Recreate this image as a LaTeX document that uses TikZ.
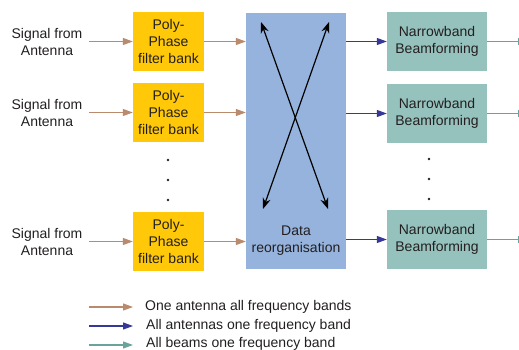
\documentclass[tikz,border=0pt]{standalone}
\usepackage{fontspec}
\setmainfont{Liberation Sans}
\usetikzlibrary{arrows.meta}
\definecolor{pfbyellow}{HTML}{FFC90A}
\definecolor{reorgblue}{HTML}{95B3DD}
\definecolor{nbbteal}{HTML}{96C2BE}
\definecolor{antbrown}{HTML}{B98A6C}
\definecolor{bandblue}{HTML}{353896}
\definecolor{beamteal}{HTML}{6AA39C}
\definecolor{txtgrey}{HTML}{231F20}
\begin{document}
\begin{tikzpicture}[x=1pt, y=-1pt,
    every node/.style={text=txtgrey, font=\fontsize{14}{17}\selectfont},
    pfb/.style={fill=pfbyellow, minimum width=71pt, minimum height=59pt,
                inner sep=0pt, align=center},
    nbb/.style={fill=nbbteal, minimum width=100pt, minimum height=59pt,
                inner sep=0pt, align=center},
    sig/.style={align=center, inner sep=0pt},
    antarrow/.style={antbrown, line width=1.1pt, -{Triangle[length=10pt,width=7pt]}},
    bandarrow/.style={bandblue, line width=1.1pt, -{Triangle[length=10pt,width=7pt]}},
    beamarrow/.style={beamteal, line width=1.1pt, -{Triangle[length=10pt,width=7pt]}},
    swaparrow/.style={black, line width=1.2pt,
                      {Stealth[length=11pt,width=8pt]}-{Stealth[length=11pt,width=8pt]}},
    dot/.style={circle, fill=txtgrey, inner sep=0pt, minimum size=2.6pt}]
    \clip (0, 0) rectangle (519, 350);
    \useasboundingbox (0, 0) rectangle (519, 350);

    % Data reorganisation
    \node [fill=reorgblue, minimum width=100pt, minimum height=256pt, inner sep=0pt]
          (reorg) at (296, 141) {};
    \node [align=center, inner sep=0pt] (reorgtxt) at (296, 241) {Data\\reorganisation};
    \coordinate (swaptl) at (261, 22);
    \coordinate (swaptr) at (329, 22);
    \coordinate (swapbl) at (263, 209);
    \coordinate (swapbr) at (328, 209);
    \draw [swaparrow] (swaptl) -- (swapbr);
    \draw [swaparrow] (swaptr) -- (swapbl);

    % Rows: antenna -> filter bank -> reorganisation -> beamforming
    \foreach \i/\yp/\yb in {1/41.5/41.5, 2/112.5/113.5, 3/241.5/239.5} {
        \node [sig] (sig\i) at (47, \yp) {Signal from\\Antenna};
        \node [pfb] (pfb\i) at (168.5, \yp) {Poly-\\Phase\\filter bank};
        \node [nbb] (nbb\i) at (437, \yb) {Narrowband\\Beamforming};
        \coordinate (beam\i) at (528, \yb);

        \draw [antarrow] (89, \yp) -- (pfb\i.west);
        \draw [antarrow] (pfb\i.east) -- (reorg.west |- pfb\i.east);
        \draw [bandarrow] (reorg.east |- nbb\i.west) -- (nbb\i.west);
        \draw [beamarrow] (nbb\i.east) -- (beam\i);
    }

    % Dots
    \foreach \yd [count=\k] in {160, 180, 200} {
        \node [dot] (pfbdot\k) at (168, \yd) {};
        \node [dot] (nbbdot\k) at (429, \yd - 1) {};
    }

    % Legend
    \coordinate (leg1a) at (89, 307);
    \coordinate (leg1b) at (133, 307);
    \coordinate (leg2a) at (89, 326);
    \coordinate (leg2b) at (133, 326);
    \coordinate (leg3a) at (89, 345);
    \coordinate (leg3b) at (133, 345);
    \draw [antarrow] (leg1a) -- (leg1b);
    \draw [bandarrow] (leg2a) -- (leg2b);
    \draw [beamarrow] (leg3a) -- (leg3b);
    \node [anchor=west, inner sep=0pt] (leg1) at (145, 307) {One antenna all frequency bands};
    \node [anchor=west, inner sep=0pt] (leg2) at (146, 326) {All antennas one frequency band};
    \node [anchor=west, inner sep=0pt] (leg3) at (146, 344) {All beams one frequency band};
\end{tikzpicture}
\end{document}
